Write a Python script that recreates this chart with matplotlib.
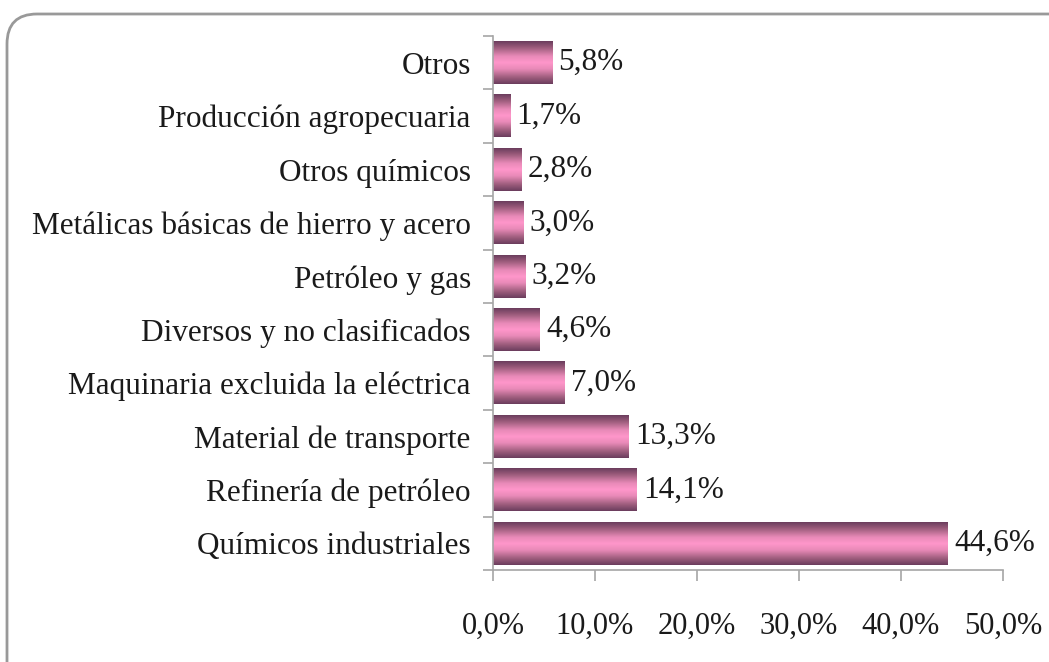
import numpy as np
import matplotlib
matplotlib.use("Agg")
import matplotlib.pyplot as plt
from matplotlib.patches import FancyBboxPatch
from matplotlib.colors import LinearSegmentedColormap

categories = ["Químicos industriales", "Refinería de petróleo", "Material de transporte",
              "Maquinaria excluida la eléctrica", "Diversos y no clasificados", "Petróleo y gas",
              "Metálicas básicas de hierro y acero", "Otros químicos", "Producción agropecuaria", "Otros"]
values = [44.6, 14.1, 13.3, 7.0, 4.6, 3.2, 3.0, 2.8, 1.7, 5.8]
xticks = [0, 10, 20, 30, 40, 50]

plt.rcParams['font.family'] = ['Liberation Serif', 'DejaVu Serif']

W, H = 1049, 662
fig = plt.figure(figsize=(W/100, H/100), dpi=100)
ax = fig.add_axes([493/W, 1-570/H, (1003-493)/W, (570-36)/H])

cmap = LinearSegmentedColormap.from_list("bar", [
    (0.0, "#6a3c5c"), (0.15, "#9c5c7c"), (0.35, "#e88ab8"), (0.5, "#ff96ca"),
    (0.65, "#e88ab8"), (0.85, "#9c5c7c"), (1.0, "#6a3c5c")])
grad = np.linspace(0, 1, 256).reshape(-1, 1)

h = 0.8
ypos = np.arange(len(categories))
for y, v in zip(ypos, values):
    ax.imshow(grad, cmap=cmap, aspect='auto', extent=[0, v, y - h/2, y + h/2],
              origin='lower', interpolation='bilinear', zorder=2)
    ax.text(v + 0.6, y, f"{v:.1f}%".replace('.', ','), va='center', ha='left',
            fontsize=22.5, color='#1a1a1a')

ax.set_xlim(0, 50)
ax.set_ylim(-0.5, len(categories) - 0.5)
ax.set_xticks(xticks)
ax.set_xticklabels([f"{t:.1f}%".replace('.', ',') for t in xticks], fontsize=22, color='#1a1a1a')
ax.set_yticks(ypos)
ax.set_yticklabels(categories, fontsize=22.5, color='#1a1a1a')
ax.set_yticks(np.arange(-0.5, len(categories), 1), minor=True)
ax.tick_params(axis='y', which='major', length=0, pad=16)
ax.tick_params(axis='y', which='minor', length=7, color='#a6a6a6', width=1.2)
ax.tick_params(axis='x', which='major', length=8, color='#a6a6a6', width=1.2, pad=22)
for s in ['top', 'right']:
    ax.spines[s].set_visible(False)
for s in ['left', 'bottom']:
    ax.spines[s].set_color('#a6a6a6')
    ax.spines[s].set_linewidth(1.2)

# rounded chart border extending beyond right and bottom edges
box = FancyBboxPatch((7/100, -0.4), (W + 40 - 7)/100, (H - 14)/100 + 0.4,
                     boxstyle="round,pad=0,rounding_size=0.3",
                     transform=fig.dpi_scale_trans, fill=False,
                     edgecolor='#999999', linewidth=2.0, clip_on=False)
fig.patches.append(box)

fig.savefig("out.png", dpi=100)
